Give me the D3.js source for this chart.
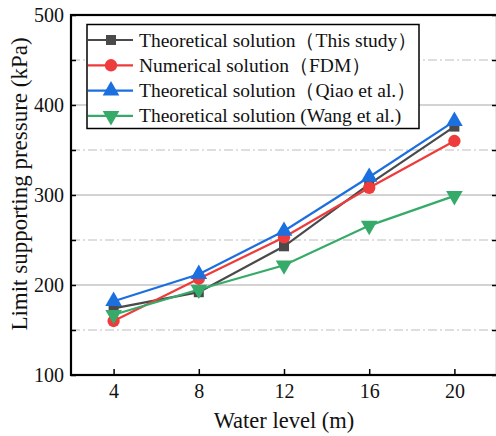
<!DOCTYPE html>
<html>
<head>
<meta charset="utf-8">
<script src="https://cdn.jsdelivr.net/npm/d3@7"></script>
</head>
<body style="margin:0">
<svg id="chart" width="496" height="436" font-family="Liberation Serif"></svg>
<script>
// data
var waterLevels = [4, 8, 12, 16, 20];
var thisStudy = [174, 192, 243, 312, 376];
var fdm = [160, 207, 253, 308, 360];
var qiao = [182, 212, 260, 320, 382];
var wang = [167, 195, 222, 266, 299];
var seriesNames = ["Theoretical solution（This study）", "Numerical solution（FDM）",
                   "Theoretical solution（Qiao et al.）", "Theoretical solution (Wang et al.)"];
var yTicks = [100, 200, 300, 400, 500];
var yMinor = [150, 250, 350, 450];

var series = [
  {name: seriesNames[0], values: thisStudy, color: "#4a4a4a", shape: d3.symbolSquare},
  {name: seriesNames[1], values: fdm, color: "#ee3b3b", shape: d3.symbolCircle},
  {name: seriesNames[2], values: qiao, color: "#1b6fde", shape: d3.symbolTriangle},
  {name: seriesNames[3], values: wang, color: "#36ab69", shape: "down"}
];

var svg = d3.select("#chart");
var pLeft = 71, pRight = 497, pTop = 15, pBottom = 375;

var x = d3.scaleLinear().domain([2, 22]).range([pLeft, pRight]);
var y = d3.scaleLinear().domain([100, 500]).range([pBottom, pTop]);

// grid
svg.append("g").selectAll("line").data(yTicks.slice(1, 4)).enter().append("line")
  .attr("x1", pLeft).attr("x2", pRight)
  .attr("y1", d => y(d)).attr("y2", d => y(d))
  .style("stroke", "#c4c4c4").style("stroke-width", 1.5);
svg.append("g").selectAll("line").data(yMinor).enter().append("line")
  .attr("x1", pLeft).attr("x2", pRight)
  .attr("y1", d => y(d)).attr("y2", d => y(d))
  .style("stroke", "#bdbdbd").style("stroke-width", 1.2)
  .style("stroke-dasharray", "9,3,2,3");

// axes, ticks inward
var allY = yTicks.concat(yMinor);
svg.append("g").attr("transform", "translate(" + pLeft + ",0)")
  .call(d3.axisLeft(y).tickValues(allY).tickSize(-5).tickFormat(d => yTicks.indexOf(d) >= 0 ? d : ""))
  .call(g => g.select(".domain").remove())
  .selectAll("text").attr("x", -7);
svg.append("g").attr("transform", "translate(" + pRight + ",0)")
  .call(d3.axisRight(y).tickValues(allY).tickSize(-5).tickFormat(""))
  .call(g => g.select(".domain").remove());
svg.append("g").attr("transform", "translate(0," + pBottom + ")")
  .call(d3.axisBottom(x).tickValues(waterLevels).tickSize(-6).tickFormat(d3.format("d")))
  .call(g => g.select(".domain").remove())
  .selectAll("text").attr("y", 9);
svg.selectAll(".tick line").style("stroke", "#000").style("stroke-width", 1.5);
svg.selectAll(".tick text").attr("font-size", 20).attr("fill", "#111").attr("font-family", "Liberation Serif");
svg.selectAll("g").attr("font-family", "Liberation Serif");

svg.append("rect").attr("x", pLeft).attr("y", pTop)
  .attr("width", pRight - pLeft).attr("height", pBottom - pTop)
  .style("fill", "none").style("stroke", "#000").style("stroke-width", 2.2);

// lines + markers
var line = d3.line().x((d, i) => x(waterLevels[i])).y(d => y(d));
function marker(s, size) {
  if (s.shape === "down") return d3.symbol().type(d3.symbolTriangle).size(size)();
  return d3.symbol().type(s.shape).size(size)();
}
series.forEach(function(s) {
  svg.append("path").datum(s.values).attr("d", line)
    .style("fill", "none").style("stroke", s.color).style("stroke-width", 2.2);
  svg.append("g").selectAll("path").data(s.values).enter().append("path")
    .attr("d", marker(s, s.shape === d3.symbolSquare ? 100 : 120))
    .attr("transform", (d, i) => "translate(" + x(waterLevels[i]) + "," + y(d) + ")" + (s.shape === "down" ? " rotate(180)" : ""))
    .style("fill", s.color);
});

// legend
var lg = svg.append("g");
lg.append("rect").attr("x", 87).attr("y", 24.5).attr("width", 332).attr("height", 104)
  .style("fill", "#fff").style("stroke", "#000").style("stroke-width", 1.5);
series.forEach(function(s, i) {
  var cy = 40 + i * 25.3;
  lg.append("line").attr("x1", 88).attr("x2", 133).attr("y1", cy).attr("y2", cy)
    .style("stroke", s.color).style("stroke-width", 2.2);
  lg.append("path").attr("d", marker(s, s.shape === d3.symbolSquare ? 100 : 120))
    .attr("transform", "translate(111," + cy + ")" + (s.shape === "down" ? " rotate(180)" : ""))
    .style("fill", s.color);
  lg.append("text").attr("x", 139).attr("y", cy + 6.5).attr("font-family", "Liberation Serif")
    .attr("font-size", 19.5).attr("fill", "#111").text(s.name);
});

// titles
svg.append("text").attr("x", 284).attr("y", 428).attr("text-anchor", "middle")
  .attr("font-family", "Liberation Serif").attr("font-size", 22.5).attr("fill", "#111").text("Water level (m)");
svg.append("text").attr("transform", "translate(27,184) rotate(-90)")
  .attr("text-anchor", "middle").attr("font-family", "Liberation Serif").attr("font-size", 23)
  .attr("fill", "#111").text("Limit supporting pressure (kPa)");
</script>
</body>
</html>
